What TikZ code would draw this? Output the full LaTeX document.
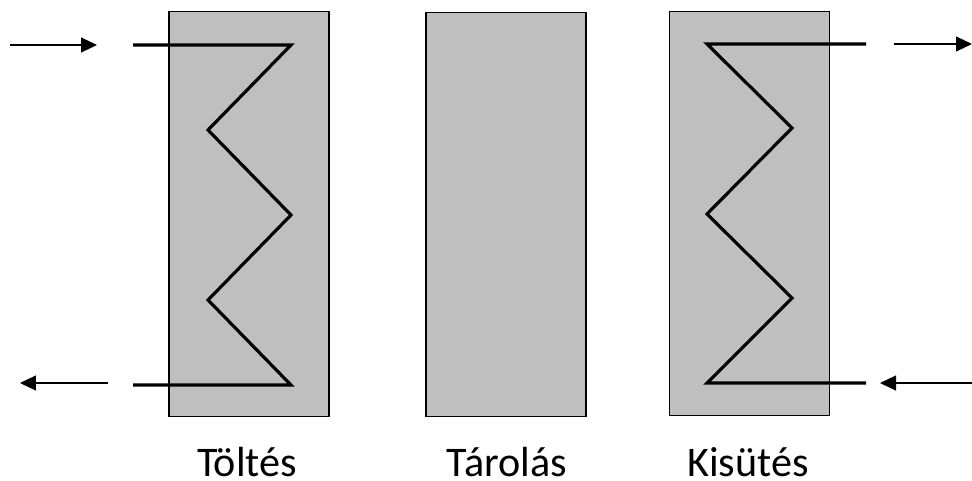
\documentclass[tikz,border=0pt]{standalone}
\usepackage{fontspec}
\setmainfont{Carlito}
\usetikzlibrary{arrows.meta,positioning}

\tikzset{
  tank/.style={draw, fill=gray!50, minimum width=3.2cm, minimum height=8.1cm, inner sep=0pt, line width=0.6pt},
  coil/.style={line width=1.8pt, line join=miter},
  flow/.style={line width=0.6pt, -{Triangle[length=3.2mm,width=3mm]}},
  lbl/.style={font=\fontsize{24}{28}\selectfont, inner sep=0pt, anchor=base}
}

\begin{document}
\begin{tikzpicture}[x=0.02cm, y=-0.02cm]
        \useasboundingbox (0,0) rectangle (972,480);

        % tartalyok
        \node[tank] (charge) at (249,214) {};
        \node[tank] (store) at (506,214.5) {};
        \node[tank] (discharge) at (749.5,213.5) {};

        % csokigyok
        \begin{scope}[coil]
        \draw (133,45) -- (291,45) -- (208,130) -- (291,215) -- (208,300) -- (291,385) -- (133,385);
        \draw (866,44) -- (707,44) -- (792,128) -- (707,214) -- (792,298) -- (707,383) -- (866,383);
        \end{scope}

        \coordinate (in1) at (10,45);
        \coordinate (in1e) at (97,45);
        \coordinate (out1) at (108,383);
        \coordinate (out1e) at (20,383);
        \coordinate (out3) at (894,44);
        \coordinate (out3e) at (972,44);
        \coordinate (in3) at (972,383);
        \coordinate (in3e) at (880,383);

        \begin{scope}[flow]
        \draw (in1) -- (in1e);
        \draw (out1) -- (out1e);
        \draw (out3) -- (out3e);
        \draw (in3) -- (in3e);
        \end{scope}

        \node[lbl] (lcharge) at (247,476) {Töltés};
        \node[lbl] (lstore) at (507,476) {Tárolás};
        \node[lbl] (ldischarge) at (748,476) {Kisütés};

\end{tikzpicture}
\end{document}
